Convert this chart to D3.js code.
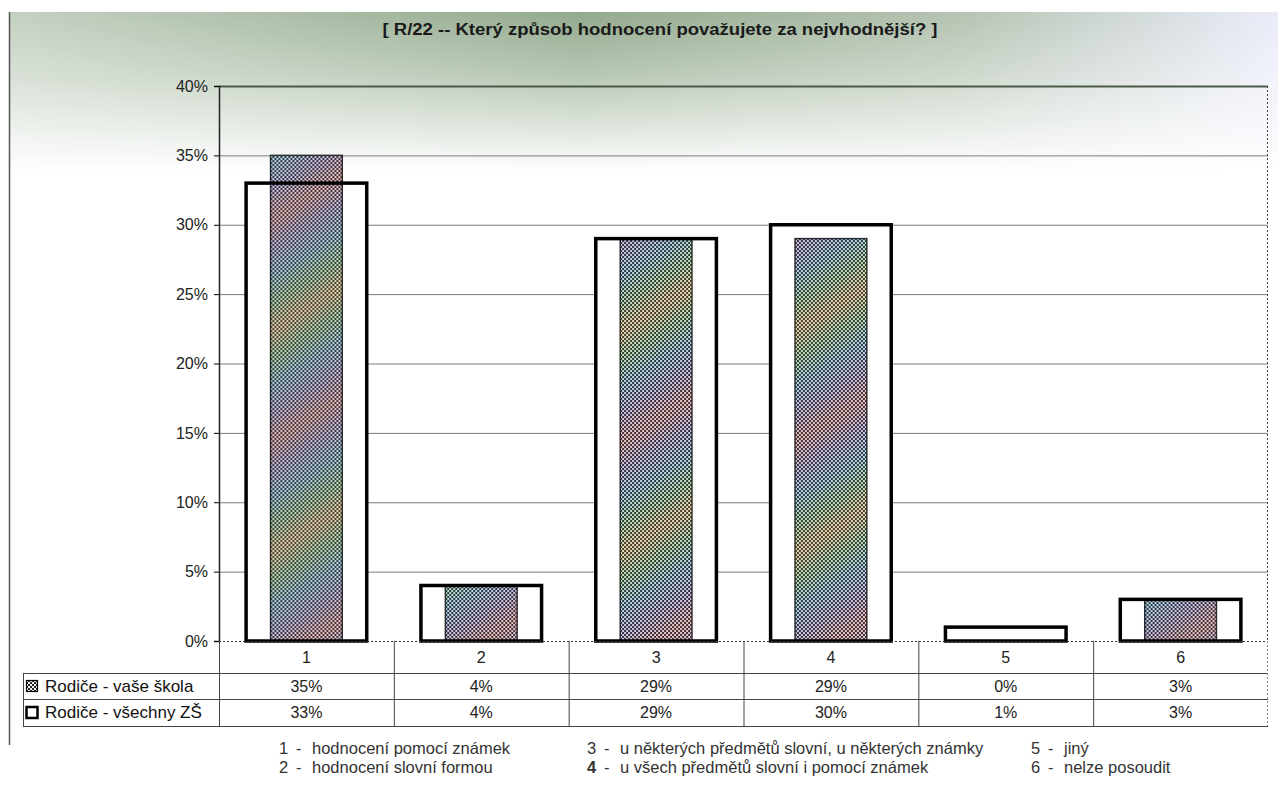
<!DOCTYPE html>
<html>
<head>
<meta charset="utf-8">
<script src="https://cdn.jsdelivr.net/npm/d3@7"></script>
<style>
  body { margin: 0; background: #fff; }
  svg text { font-family: "Liberation Sans", Arial, sans-serif; }
</style>
</head>
<body>
<svg width="1278" height="794"></svg>
<script>
// data
var categories = ["1", "2", "3", "4", "5", "6"];
var schoolValues = [35, 4, 29, 29, 0, 3];   // Rodiče - vaše škola
var allValues = [33, 4, 29, 30, 1, 3];      // Rodiče - všechny ZŠ
var seriesNames = ["Rodiče - vaše škola", "Rodiče - všechny ZŠ"];
var yTicks = [0, 5, 10, 15, 20, 25, 30, 35, 40];
var legendNums = ["1", "2", "3", "4", "5", "6"];
var legendTexts = [
  "hodnocení pomocí známek",
  "hodnocení slovní formou",
  "u některých předmětů slovní, u některých známky",
  "u všech předmětů slovní i pomocí známek",
  "jiný",
  "nelze posoudit"
];
var titleText = "[ R/22 -- Který způsob hodnocení považujete za nejvhodnější? ]";

var svg = d3.select("svg"),
    margin = {top: 86, right: 10, bottom: 153, left: 219},
    width = +svg.attr("width") - margin.left - margin.right,
    height = +svg.attr("height") - margin.top - margin.bottom;

var defs = svg.append("defs");

// scanned green tint at the top of the page, faded out with a mask
var bg = defs.append("linearGradient").attr("id", "topTint")
    .attr("x1", 0).attr("y1", 0).attr("x2", 1).attr("y2", 0);
bg.append("stop").attr("offset", "0%").attr("stop-color", "#b9c8b6");
bg.append("stop").attr("offset", "45%").attr("stop-color", "#7f9a78");
bg.append("stop").attr("offset", "75%").attr("stop-color", "#a8b9a4");
bg.append("stop").attr("offset", "100%").attr("stop-color", "#e6e8f8");

var fade = defs.append("linearGradient").attr("id", "fadeDown")
    .attr("x1", 0).attr("y1", 0).attr("x2", 0).attr("y2", 1);
fade.append("stop").attr("offset", "0%").attr("stop-color", "#fff").attr("stop-opacity", 0.85);
fade.append("stop").attr("offset", "40%").attr("stop-color", "#fff").attr("stop-opacity", 0.55);
fade.append("stop").attr("offset", "100%").attr("stop-color", "#fff").attr("stop-opacity", 0);
defs.append("mask").attr("id", "tintMask")
  .append("rect").attr("x", 10).attr("y", 12).attr("width", 1268).attr("height", 160)
    .attr("fill", "url(#fadeDown)");

svg.append("rect").attr("x", 10).attr("y", 12).attr("width", 1268).attr("height", 160)
    .attr("fill", "url(#topTint)")
    .attr("mask", "url(#tintMask)");

// left page edge from the scan
svg.append("line").attr("x1", 9.5).attr("x2", 9.5).attr("y1", 12).attr("y2", 745)
    .attr("stroke", "#555").attr("stroke-width", 1.5);

// checker pattern for the school series
var pat = defs.append("pattern").attr("id", "checker")
    .attr("width", 4).attr("height", 4).attr("patternUnits", "userSpaceOnUse");
pat.append("rect").attr("width", 4).attr("height", 4).attr("fill", "#eeeeee");
pat.append("rect").attr("width", 2).attr("height", 2).attr("fill", "#262626");
pat.append("rect").attr("x", 2).attr("y", 2).attr("width", 2).attr("height", 2).attr("fill", "#262626");

// rainbow moire from the scan
var moire = defs.append("linearGradient").attr("id", "moire")
    .attr("gradientUnits", "userSpaceOnUse")
    .attr("x1", 0).attr("y1", 0).attr("x2", 50).attr("y2", 80)
    .attr("spreadMethod", "reflect");
["#c98a20", "#3f9a3c", "#2a82b8", "#6a4fa8", "#c04848"].forEach(function(c, i) {
  moire.append("stop").attr("offset", (i * 25) + "%").attr("stop-color", c);
});

var g = svg.append("g").attr("transform", "translate(" + margin.left + "," + margin.top + ")");

var x = d3.scaleBand()
    .domain(categories)
    .range([0, width]);

var y = d3.scaleLinear()
    .domain([0, 40])
    .range([height, 0]);

// gridlines
g.append("g")
    .selectAll("line")
    .data(yTicks.slice(1))
    .enter().append("line")
      .attr("x1", 0)
      .attr("x2", width)
      .attr("y1", function(d) { return y(d) + 0.5; })
      .attr("y2", function(d) { return y(d) + 0.5; })
      .attr("stroke", function(d) { return d == 40 ? "#4a5a48" : "#7a7a7a"; })
      .attr("stroke-width", function(d) { return d == 40 ? 2 : 1; });

// right plot edge, dotted
g.append("line")
    .attr("x1", width - 0.5).attr("x2", width - 0.5)
    .attr("y1", 0).attr("y2", height)
    .attr("stroke", "#444").attr("stroke-dasharray", "2,2");

// y axis
var yAxis = g.append("g")
    .attr("class", "axis")
    .call(d3.axisLeft(y).tickValues(yTicks).tickSize(5).tickFormat(function(d) { return d + "%"; }));
yAxis.select(".domain").attr("stroke", "#222").attr("stroke-width", 1.5);
yAxis.selectAll("text")
    .attr("font-size", 16)
    .attr("fill", "#222")
    .attr("x", -11);

var wideW = x.bandwidth() * 0.69,
    narrowW = x.bandwidth() * 0.41;

var bars = g.append("g").attr("class", "chart")
    .selectAll("g")
    .data(categories)
    .enter().append("g")
      .attr("transform", function(d) { return "translate(" + (x(d) + x.bandwidth() / 2) + ",0)"; });

// white back of the "všechny ZŠ" bar
bars.append("rect")
    .attr("x", -wideW / 2)
    .attr("width", wideW)
    .attr("y", function(d, i) { return y(allValues[i]); })
    .attr("height", function(d, i) { return height - y(allValues[i]); })
    .attr("fill", "#fff");

// patterned "vaše škola" bar
bars.append("rect")
    .attr("x", -narrowW / 2)
    .attr("width", narrowW)
    .attr("y", function(d, i) { return y(schoolValues[i]); })
    .attr("height", function(d, i) { return height - y(schoolValues[i]); })
    .attr("fill", "url(#checker)")
    .attr("stroke", "#222")
    .attr("stroke-width", function(d, i) { return schoolValues[i] > 0 ? 1.5 : 0; });

bars.append("rect")
    .attr("x", -narrowW / 2)
    .attr("width", narrowW)
    .attr("y", function(d, i) { return y(schoolValues[i]); })
    .attr("height", function(d, i) { return height - y(schoolValues[i]); })
    .attr("fill", "url(#moire)")
    .attr("opacity", 0.25);

// outline of the "všechny ZŠ" bar on top
bars.append("rect")
    .attr("x", -wideW / 2)
    .attr("width", wideW)
    .attr("y", function(d, i) { return y(allValues[i]); })
    .attr("height", function(d, i) { return height - y(allValues[i]); })
    .attr("fill", "none")
    .attr("stroke", "#000")
    .attr("stroke-width", 3.5);

// zero line, dotted
g.append("line")
    .attr("x1", 0).attr("x2", width)
    .attr("y1", height + 0.5).attr("y2", height + 0.5)
    .attr("stroke", "#333").attr("stroke-dasharray", "2,2");

// data table under the chart
var rowH = [32, 26, 27];
var rowY = [height, height + rowH[0], height + rowH[0] + rowH[1], height + rowH[0] + rowH[1] + rowH[2]];
var legendLeft = 23 - margin.left;

var table = g.append("g").attr("class", "table");

// horizontal rules
table.selectAll("line.h")
    .data([rowY[1], rowY[2], rowY[3]])
    .enter().append("line")
      .attr("class", "h")
      .attr("x1", legendLeft)
      .attr("x2", width)
      .attr("y1", function(d) { return d + 0.5; })
      .attr("y2", function(d) { return d + 0.5; })
      .attr("stroke", "#444");

// vertical rules between categories
table.selectAll("line.v")
    .data(categories)
    .enter().append("line")
      .attr("class", "v")
      .attr("x1", function(d) { return x(d) + 0.5; })
      .attr("x2", function(d) { return x(d) + 0.5; })
      .attr("y1", rowY[0])
      .attr("y2", rowY[3])
      .attr("stroke", "#444");
table.append("line")
    .attr("x1", width - 0.5).attr("x2", width - 0.5)
    .attr("y1", rowY[0]).attr("y2", rowY[3])
    .attr("stroke", "#888").attr("stroke-dasharray", "2,2");
table.append("line")
    .attr("x1", legendLeft + 0.5).attr("x2", legendLeft + 0.5)
    .attr("y1", rowY[1]).attr("y2", rowY[3])
    .attr("stroke", "#444");

// category numbers
table.selectAll("text.cat")
    .data(categories)
    .enter().append("text")
      .attr("class", "cat")
      .attr("x", function(d) { return x(d) + x.bandwidth() / 2; })
      .attr("y", rowY[0] + rowH[0] / 2)
      .attr("dy", "0.35em")
      .attr("text-anchor", "middle")
      .attr("font-size", 16)
      .attr("fill", "#222")
      .text(function(d) { return d; });

[schoolValues, allValues].forEach(function(vals, r) {
  table.selectAll("text.val" + r)
    .data(vals)
    .enter().append("text")
      .attr("class", "val" + r)
      .attr("x", function(d, i) { return x(categories[i]) + x.bandwidth() / 2; })
      .attr("y", rowY[r + 1] + rowH[r + 1] / 2)
      .attr("dy", "0.35em")
      .attr("text-anchor", "middle")
      .attr("font-size", 16)
      .attr("fill", "#222")
      .text(function(d) { return d + "%"; });
});

// series legend keys in the table
var keys = table.selectAll("g.key")
    .data(seriesNames)
    .enter().append("g")
      .attr("class", "key")
      .attr("transform", function(d, i) { return "translate(" + (legendLeft + 3) + "," + (rowY[i + 1] + rowH[i + 1] / 2) + ")"; });

keys.append("rect")
    .attr("x", 0.5)
    .attr("y", -5.5)
    .attr("width", 11)
    .attr("height", 11)
    .attr("fill", function(d, i) { return i == 0 ? "url(#checker)" : "#fff"; })
    .attr("stroke", "#000")
    .attr("stroke-width", function(d, i) { return i == 0 ? 1.2 : 2.5; });

keys.append("text")
    .attr("x", 19)
    .attr("dy", "0.35em")
    .attr("font-size", 17)
    .attr("fill", "#111")
    .text(function(d) { return d; });

// category legend underneath
var legX = [279, 587, 1031];
var legend = svg.append("g")
    .attr("class", "legend")
    .attr("font-size", 16.5)
    .attr("fill", "#333")
    .selectAll("g")
    .data(legendTexts)
    .enter().append("g")
      .attr("transform", function(d, i) { return "translate(" + legX[Math.floor(i / 2)] + "," + (754 + (i % 2) * 19) + ")"; });

legend.append("text")
    .attr("font-weight", function(d, i) { return i == 3 ? "bold" : null; })
    .text(function(d, i) { return legendNums[i]; });
legend.append("text")
    .attr("x", 17)
    .text("-");
legend.append("text")
    .attr("x", 33)
    .text(function(d) { return d; });

// title
svg.append("text")
    .attr("x", 660)
    .attr("y", 35)
    .attr("text-anchor", "middle")
    .attr("font-size", 16)
    .attr("font-weight", "bold")
    .attr("fill", "#1a1a1a")
    .attr("textLength", 555)
    .attr("lengthAdjust", "spacingAndGlyphs")
    .text(titleText);
</script>
</body>
</html>
